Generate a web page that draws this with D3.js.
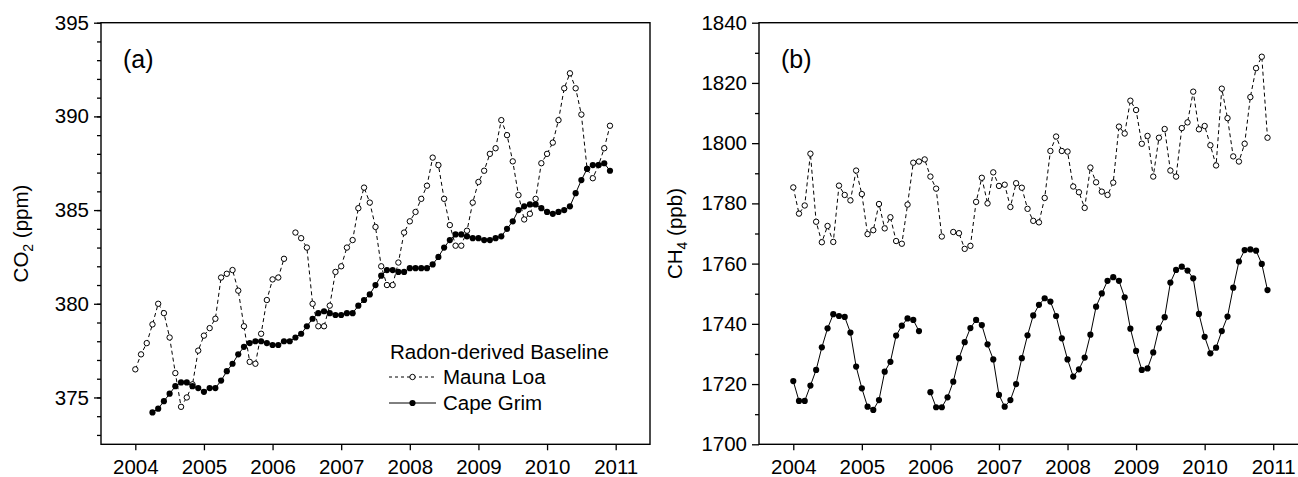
<!DOCTYPE html>
<html lang="en">
<head>
<meta charset="UTF-8">
<title>CO2 and CH4 radon-derived baseline</title>
<script src="https://cdn.jsdelivr.net/npm/d3@7"></script>
<style>
    body{ margin: 0; background: #fff; }
    text{ font-family: "Liberation Sans", Arial, sans-serif; fill: #000; }
</style>
</head>
<body>
<svg id="fig" width="1298" height="477"></svg>

<script>
    // monthly values, Jan 2004 .. Dec 2010 (null = no value)
    const startYear = 2004
    const yearTicks = [2004, 2005, 2006, 2007, 2008, 2009, 2010, 2011]

    const co2MaunaLoa = [
        376.5, 377.3, 377.9, 378.9, 380.0, 379.5, 378.2, 376.3, 374.5, 375.0, 375.7, 377.5,
        378.3, 378.7, 379.2, 381.4, 381.6, 381.8, 380.7, 378.8, 376.9, 376.8, 378.4, 380.2,
        381.3, 381.4, 382.4, null,  383.8, 383.5, 383.0, 380.0, 378.8, 378.8, 379.9, 381.7,
        382.0, 383.0, 383.4, 385.1, 386.2, 385.4, 384.1, 382.0, 381.0, 381.0, 382.2, 383.8,
        384.4, 384.9, 385.6, 386.3, 387.8, 387.4, 385.6, 384.2, 383.1, 383.1, 383.9, 385.4,
        386.5, 387.1, 388.0, 388.3, 389.8, 389.0, 387.6, 385.8, 384.5, 384.8, 385.6, 387.5,
        388.0, 388.6, 389.8, 391.5, 392.3, 391.5, 390.1, 387.2, 386.7, 387.4, 388.3, 389.5
    ]
    const co2CapeGrim = [
        null,  null,  null,  374.2, 374.4, 374.8, 375.2, 375.6, 375.8, 375.8, 375.6, 375.5,
        375.3, 375.5, 375.5, 375.9, 376.4, 376.8, 377.3, 377.7, 377.9, 378.0, 378.0, 377.9,
        377.8, 377.8, 378.0, 378.0, 378.2, 378.4, 378.8, 379.2, 379.5, 379.6, 379.5, 379.4,
        379.4, 379.5, 379.5, 379.9, 380.2, 380.5, 381.0, 381.5, 381.8, 381.8, 381.7, 381.7,
        381.9, 381.9, 381.9, 381.9, 382.1, 382.5, 383.0, 383.4, 383.7, 383.7, 383.6, 383.5,
        383.5, 383.4, 383.4, 383.5, 383.6, 384.0, 384.4, 385.0, 385.2, 385.3, 385.3, 385.1,
        384.9, 384.8, 384.9, 385.0, 385.2, 385.9, 386.6, 387.2, 387.4, 387.4, 387.5, 387.1
    ]
    const ch4MaunaLoa = [
        1785.3, 1776.6, 1779.3, 1796.5, 1773.9, 1767.1, 1772.5, 1767.2, 1785.9, 1782.8, 1781.0, 1790.9,
        1783.1, 1769.8, 1771.1, 1779.8, 1771.7, 1775.4, 1767.5, 1766.6, 1779.6, 1793.5, 1793.9, 1794.6,
        1788.9, 1784.9, 1769.0, null,   1770.5, 1770.1, 1764.9, 1765.9, 1780.5, 1788.5, 1780.0, 1790.3,
        1785.8, 1786.2, 1778.8, 1786.7, 1785.2, 1778.2, 1774.2, 1773.7, 1781.8, 1797.4, 1802.2, 1797.4,
        1797.2, 1785.6, 1783.7, 1778.5, 1791.9, 1787.0, 1783.9, 1782.8, 1786.9, 1805.5, 1803.2, 1814.1,
        1811.0, 1799.8, 1802.4, 1788.9, 1801.8, 1804.7, 1790.9, 1788.9, 1805.0, 1806.9, 1817.1, 1804.6,
        1805.7, 1799.3, 1792.6, 1818.1, 1808.3, 1795.6, 1793.9, 1799.8, 1815.3, 1824.9, 1828.7, 1801.8
    ]
    const ch4CapeGrim = [
        1721.0, 1714.4, 1714.4, 1719.5, 1724.7, 1732.2, 1738.5, 1743.2, 1742.6, 1742.3, 1737.1, 1725.8,
        1718.6, 1712.5, 1711.4, 1714.7, 1724.1, 1727.4, 1736.1, 1739.4, 1741.8, 1741.3, 1737.6, null,
        1717.3, 1712.3, 1712.3, 1715.6, 1720.8, 1728.6, 1733.9, 1738.6, 1741.3, 1739.6, 1733.2, 1728.2,
        1716.4, 1712.5, 1714.7, 1720.0, 1728.6, 1736.2, 1742.8, 1746.3, 1748.5, 1747.4, 1742.6, 1735.2,
        1728.2, 1722.5, 1724.9, 1728.8, 1736.4, 1745.7, 1750.1, 1754.3, 1755.5, 1754.3, 1748.8, 1738.4,
        1731.0, 1724.7, 1725.2, 1730.5, 1738.5, 1742.2, 1753.7, 1757.9, 1759.0, 1757.7, 1755.1, 1743.3,
        1735.7, 1730.2, 1732.1, 1737.6, 1742.4, 1752.0, 1760.7, 1764.5, 1764.7, 1764.3, 1759.9, 1751.2
    ]

    const co2Ticks = [375, 380, 385, 390, 395]
    const co2Minor = d3.range(373, 395.5, 1)
    const ch4Ticks = [1700, 1720, 1740, 1760, 1780, 1800, 1820, 1840]
    const ch4Minor = d3.range(1710, 1840, 20)

    const legendTitle = "Radon-derived Baseline"
    const seriesNames = ["Mauna Loa", "Cape Grim"]

    let svg = d3.select("#fig")
    const fontSize = 20.5
    const plotTop = 22.7, plotBottom = 444.3

    function toPoints(values){
        return values.map(function (v, i){
            return {t: startYear + i / 12, v: v}
        })
    }

    function drawPanel(left, right, yDomain, ticks, minor, ml, cg, panelLabel, gas, sub, unit, labelX){
        let x = d3.scaleLinear().domain([2003.5, 2011.5]).range([left, right])
        let y = d3.scaleLinear().domain(yDomain).range([plotBottom, plotTop])
        let g = svg.append("g")

        // frame
        g.append("rect")
            .attr("x", left).attr("y", plotTop)
            .attr("width", right - left).attr("height", plotBottom - plotTop)
            .attr("fill", "none").attr("stroke", "#000").attr("stroke-width", 1.4)

        // y axis, minor then major
        g.append("g")
            .attr("transform", "translate(" + left + ",0)")
            .call(d3.axisLeft(y).tickValues(minor).tickSize(4).tickFormat("").tickSizeOuter(0))
            .call(a => a.select(".domain").remove())
            .selectAll("line").attr("stroke-width", 1.3)
        let ya = g.append("g")
            .attr("transform", "translate(" + left + ",0)")
            .call(d3.axisLeft(y).tickValues(ticks).tickFormat(d3.format("d")).tickSize(7).tickPadding(5).tickSizeOuter(0))
        ya.select(".domain").remove()
        ya.selectAll("line").attr("stroke-width", 1.3)
        ya.selectAll("text").attr("font-size", fontSize).attr("font-family", null)

        // x axis
        let xa = g.append("g")
            .attr("transform", "translate(0," + plotBottom + ")")
            .call(d3.axisBottom(x).tickValues(yearTicks).tickFormat(d3.format("d")).tickSize(6).tickPadding(9).tickSizeOuter(0))
        xa.select(".domain").remove()
        xa.selectAll("line").attr("stroke-width", 1.3)
        xa.selectAll("text").attr("font-size", fontSize).attr("font-family", null)

        let line = d3.line()
            .defined(d => d.v != null)
            .x(d => x(d.t))
            .y(d => y(d.v))

        let mlPts = toPoints(ml), cgPts = toPoints(cg)

        // Mauna Loa: dashed, open circles
        g.append("path").datum(mlPts)
            .attr("d", line).attr("fill", "none")
            .attr("stroke", "#000").attr("stroke-width", 1).attr("stroke-dasharray", "4,3")
        g.selectAll(".ml").data(mlPts.filter(d => d.v != null)).enter()
            .append("circle").attr("class", "ml")
            .attr("cx", d => x(d.t)).attr("cy", d => y(d.v)).attr("r", 2.7)
            .attr("fill", "#fff").attr("stroke", "#000").attr("stroke-width", 1)

        // Cape Grim: solid, filled circles
        g.append("path").datum(cgPts)
            .attr("d", line).attr("fill", "none")
            .attr("stroke", "#000").attr("stroke-width", 1)
        g.selectAll(".cg").data(cgPts.filter(d => d.v != null)).enter()
            .append("circle").attr("class", "cg")
            .attr("cx", d => x(d.t)).attr("cy", d => y(d.v)).attr("r", 3.1)
            .attr("fill", "#000")

        // panel label
        g.append("text")
            .attr("x", left + 22).attr("y", 68)
            .attr("font-size", 25)
            .text(panelLabel)

        // y label with subscript
        let yl = g.append("text")
            .attr("transform", "translate(" + labelX + "," + ((plotTop + plotBottom) / 2) + ") rotate(-90)")
            .attr("text-anchor", "middle")
            .attr("font-size", fontSize)
        yl.append("tspan").text(gas)
        yl.append("tspan").attr("font-size", 14).attr("dy", 5).text(sub)
        yl.append("tspan").attr("dy", -5).text(" " + unit)

        return g
    }

    drawPanel(101, 650, [372.5, 395], co2Ticks, co2Minor, co2MaunaLoa, co2CapeGrim, "(a)", "CO", "2", "(ppm)", 28)
    drawPanel(759, 1307.5, [1700, 1840], ch4Ticks, ch4Minor, ch4MaunaLoa, ch4CapeGrim, "(b)", "CH", "4", "(ppb)", 682)

    // legend (panel a)
    let legend = svg.append("g")
    legend.append("text").attr("x", 390).attr("y", 359).attr("font-size", fontSize).text(legendTitle)

    legend.append("line")
        .attr("x1", 389).attr("x2", 434).attr("y1", 377).attr("y2", 377)
        .attr("stroke", "#000").attr("stroke-width", 1).attr("stroke-dasharray", "3,3")
    legend.append("circle").attr("cx", 412.5).attr("cy", 377).attr("r", 2.7)
        .attr("fill", "#fff").attr("stroke", "#000").attr("stroke-width", 1)
    legend.append("text").attr("x", 443).attr("y", 384).attr("font-size", fontSize).text(seriesNames[0])

    legend.append("line")
        .attr("x1", 389).attr("x2", 436).attr("y1", 403).attr("y2", 403)
        .attr("stroke", "#000").attr("stroke-width", 1)
    legend.append("circle").attr("cx", 412.5).attr("cy", 403).attr("r", 3.1).attr("fill", "#000")
    legend.append("text").attr("x", 443).attr("y", 410).attr("font-size", fontSize).text(seriesNames[1])
</script>
</body>
</html>
